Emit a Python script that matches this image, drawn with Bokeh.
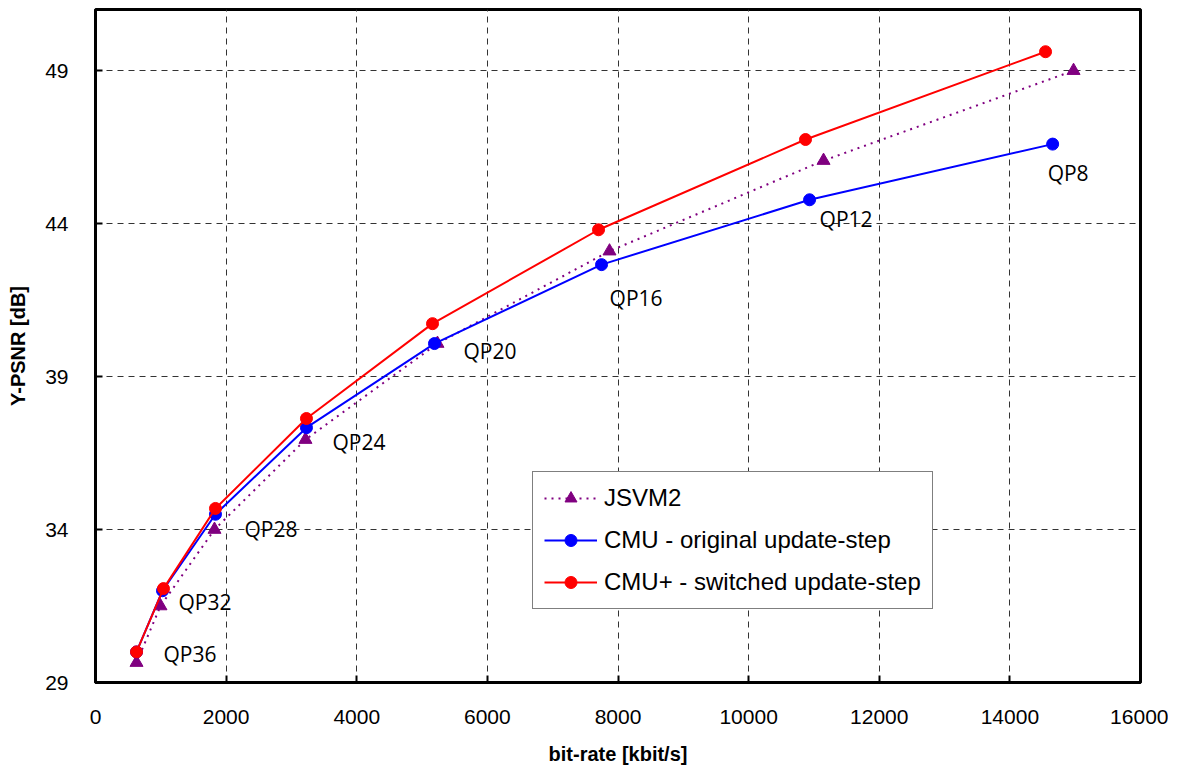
from bokeh.plotting import figure
from bokeh.models import ColumnDataSource, FixedTicker, Legend, LegendItem, Range1d
from bokeh.embed import file_html
from bokeh.resources import INLINE
from bokeh.core.properties import value

# ---- data ----
jsvm_rate = [628, 995, 1822, 3215, 5236, 7870, 11147, 14975]
jsvm_psnr = [29.65, 31.5, 34.0, 36.94, 40.08, 43.1, 46.06, 49.0]

cmu_rate = [628, 1026, 1837, 3230, 5190, 7748, 10933, 14655]
cmu_psnr = [30.0, 32.0, 34.5, 37.33, 40.08, 42.66, 44.78, 46.6]

cmup_rate = [628, 1041, 1837, 3230, 5160, 7702, 10871, 14546]
cmup_psnr = [30.0, 32.07, 34.69, 37.63, 40.73, 43.8, 46.75, 49.62]

qp_labels = ["QP36", "QP32", "QP28", "QP24", "QP20", "QP16", "QP12", "QP8"]

x_ticks = [0, 2000, 4000, 6000, 8000, 10000, 12000, 14000, 16000]
y_ticks = [29, 34, 39, 44, 49]

x_title = "bit-rate [kbit/s]"
y_title = "Y-PSNR [dB]"

# label offsets in screen pixels relative to CMU points (styling)
qp_dx = [27, 16, 29, 26, 29, 8, 10, -5]
qp_dy = [2, 11, 15, 14, 7, 33, 19, 29]

W, H = 1168, 769
BL, BR, BT, BB = 95, 28, 9, 87

p = figure(width=W, height=H, output_backend="svg", toolbar_location=None,
           x_range=Range1d(0, 16000), y_range=Range1d(29, 51),
           min_border_left=BL, min_border_right=BR, min_border_top=BT, min_border_bottom=BB)
p.background_fill_color = "white"
p.border_fill_color = "white"
p.outline_line_color = "black"
p.outline_line_width = 3

for ax in (p.xaxis, p.yaxis):
    ax.axis_line_width = 3
    ax.axis_line_color = "black"
    ax.major_tick_in = 7
    ax.major_tick_out = 0
    ax.major_tick_line_width = 2
    ax.minor_tick_line_color = None
    ax.major_label_text_font = "Liberation Sans"
    ax.major_label_text_font_size = "21px"
    ax.major_label_text_color = "black"
    ax.axis_label_text_font = "Liberation Sans"
    ax.axis_label_text_font_style = "bold"
    ax.axis_label_text_font_size = "20px"
    ax.axis_label_text_color = "black"

p.xaxis.ticker = FixedTicker(ticks=x_ticks)
p.yaxis.ticker = FixedTicker(ticks=y_ticks)
p.xaxis.major_label_standoff = 27
p.yaxis.major_label_standoff = 27
p.xaxis.axis_label = x_title
p.yaxis.axis_label = y_title
p.xaxis.axis_label_standoff = 16
p.yaxis.axis_label_standoff = 13

for g in (p.xgrid, p.ygrid):
    g.grid_line_color = "#333333"
    g.grid_line_dash = "6 5"
    g.grid_line_width = 1

# JSVM2
jl = p.line(jsvm_rate, jsvm_psnr, line_color="#800080", line_width=2, line_dash="2 5")
jm = p.scatter(jsvm_rate, jsvm_psnr, marker="triangle", size=13, fill_color="#800080",
               line_color="#800080")
# CMU
cl = p.line(cmu_rate, cmu_psnr, line_color="#0000ff", line_width=2)
cm = p.scatter(cmu_rate, cmu_psnr, marker="circle", size=12, fill_color="#0000ff",
               line_color="#0000ff")
# CMU+
rl = p.line(cmup_rate, cmup_psnr, line_color="#ff0000", line_width=2)
rm = p.scatter(cmup_rate, cmup_psnr, marker="circle", size=12, fill_color="#ff0000",
               line_color="#ff0000")

src = ColumnDataSource(dict(x=cmu_rate, y=cmu_psnr, t=qp_labels, dx=qp_dx, dy=qp_dy))
p.text(x="x", y="y", text="t", x_offset="dx", y_offset="dy", source=src,
       text_font=value("Open Sans"), text_font_size="21px", text_color="black",
       text_baseline="middle", text_align="left")

legend = Legend(items=[
    LegendItem(label="JSVM2", renderers=[jl, jm]),
    LegendItem(label="CMU - original update-step", renderers=[cl, cm]),
    LegendItem(label="CMU+ - switched update-step", renderers=[rl, rm]),
], location=(437, 73))
legend.label_text_font = "Liberation Sans"
legend.label_text_font_size = "24px"
legend.label_text_color = "black"
legend.border_line_color = "black"
legend.border_line_width = 1
legend.background_fill_color = "white"
legend.background_fill_alpha = 1.0
legend.glyph_width = 53
legend.glyph_height = 30
legend.label_height = 30
legend.label_standoff = 7
legend.spacing = 12
legend.padding = 11
legend.margin = 0
p.add_layout(legend, "center")

open("out.html", "w").write(file_html(p, INLINE))
